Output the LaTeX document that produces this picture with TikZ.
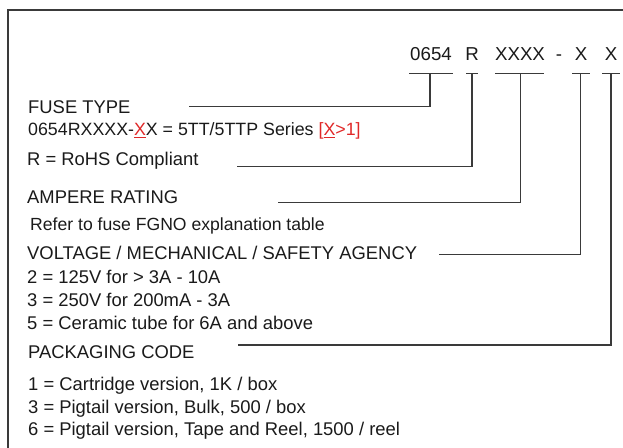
\documentclass[tikz,border=0pt]{standalone}
\usepackage{fontspec}
\setmainfont{Liberation Sans}
\usepackage{xcolor}
\definecolor{txt}{HTML}{1A1A1A}
\definecolor{ln}{HTML}{3A3A3A}
\definecolor{rd}{HTML}{E02828}
\begin{document}
\begin{tikzpicture}[x=1pt,y=-1pt,
  hdr/.style={inner sep=0pt,anchor=base,font=\fontsize{18.7}{20}\selectfont,text=txt},
  lbl/.style={inner sep=0pt,anchor=base west,font=\fontsize{18.4}{20}\selectfont,text=txt},
  conn/.style={draw=ln,line width=1.3pt},
  frame/.style={draw=ln,line width=2pt}]
\useasboundingbox (0,0) rectangle (623,447);
\begin{scope}
\clip (0,0) rectangle (623,447);
\draw[frame] (7.8,9.5) rectangle (640,470);
\end{scope}
% header code
\node[hdr] (h1) at (431,60.7) {0654};
\node[hdr] (h2) at (472,60.7) {R};
\node[hdr] (h3) at (520,60.7) {XXXX};
\node[hdr] (h4) at (559,60.7) {-};
\node[hdr] (h5) at (581,60.7) {X};
\node[hdr] (h6) at (611,60.7) {X};
% underlines
\coordinate (u1) at (430,73.3);
\coordinate (u2) at (472,73.3);
\coordinate (u3) at (520.5,73.3);
\coordinate (u5) at (580.7,73.3);
\coordinate (u6) at (611,73.3);
\draw[conn] (409,73.3) -- (453,73.3);
\draw[conn] (466,73.3) -- (478,73.3);
\draw[conn] (495,73.3) -- (544,73.3);
\draw[conn] (572,73.3) -- (590,73.3);
\draw[conn] (602,73.3) -- (620,73.3);
% labels
\node[lbl] (t1) at (28,113.3) {FUSE TYPE};
\node[lbl] (t1b) at (28,135.7) {\fontsize{17.8}{20}\selectfont 0654RXXXX-\textcolor{rd}{\underline{X}}X = 5TT/5TTP Series \textcolor{rd}{[\underline{X}>1]}};
\node[lbl] (t2) at (27,165.7) {R = RoHS Compliant};
\node[lbl] (t3) at (27,203) {AMPERE RATING};
\node[lbl] (t3b) at (30,230) {\fontsize{17.6}{20}\selectfont Refer to fuse FGNO explanation table};
\node[lbl] (t4) at (27,259) {VOLTAGE / MECHANICAL / SAFETY AGENCY};
\node[lbl] (t4a) at (27,283.3) {2 = 125V for > 3A - 10A};
\node[lbl] (t4b) at (27,306.7) {3 = 250V for 200mA - 3A};
\node[lbl] (t4c) at (27,329) {5 = Ceramic tube for 6A and above};
\node[lbl] (t5) at (28,358.3) {PACKAGING CODE};
\node[lbl] (t5a) at (28,390) {1 = Cartridge version, 1K / box};
\node[lbl] (t5b) at (28,413.3) {3 = Pigtail version, Bulk, 500 / box};
\node[lbl] (t5c) at (28,435) {6 = Pigtail version, Tape and Reel, 1500 / reel};
% connector starts
\coordinate (a1) at (189,106.7);
\coordinate (a2) at (237,166.7);
\coordinate (a3) at (278,202.3);
\coordinate (a4) at (439,254.3);
\coordinate (a5) at (238,345);
\draw[conn] (a1) -| (u1);
\draw[conn] (a2) -| (u2);
\draw[conn] (a3) -| (u3);
\draw[conn] (a4) -| (u5);
\draw[conn] (a5) -| (u6);
\end{tikzpicture}
\end{document}
